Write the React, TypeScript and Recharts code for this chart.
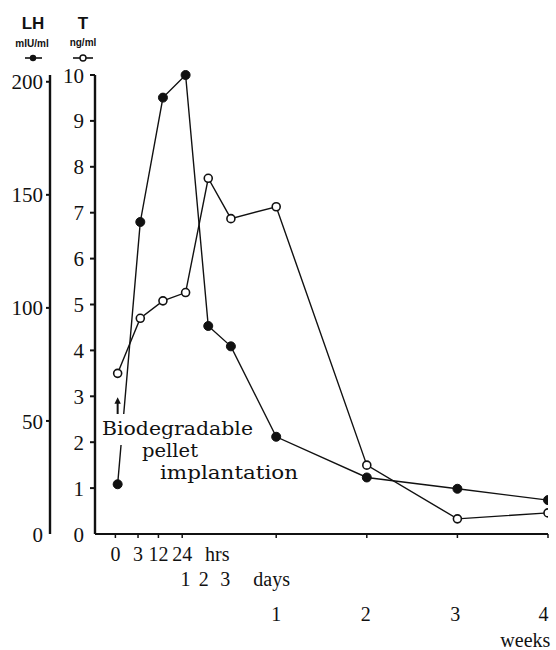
import React from 'react';
import { LineChart, Line, XAxis, YAxis, ReferenceLine } from 'recharts';

// Sampling times (labels) and their place on the broken time axis
const timeLabels = ['0 h', '3 h', '12 h', '24 h', '2 d', '3 d', '1 wk', '2 wk', '3 wk', '4 wk'];
const timePos = [0, 1, 2, 3, 4, 5, 7, 11, 15, 19];

// LH (mIU/ml) – filled circles
const lhValues = [22, 138, 193, 203, 92, 83, 43, 25, 20, 15];
// Testosterone T (ng/ml) – open circles
const tValues = [3.5, 4.7, 5.08, 5.26, 7.75, 6.87, 7.13, 1.5, 0.33, 0.46];

const lhTicks = [0, 50, 100, 150, 200];
const tTicks = [0, 1, 2, 3, 4, 5, 6, 7, 8, 9, 10];

// positions of the printed tick marks / labels along the broken time axis
const axisMarkPos = [-0.1, 0.9, 1.8, 2.85, 7, 11, 15, 19];
const hrsTickPos = [-0.1, 0.9, 1.8, 2.85, 4.4];
const hrsTickLabels = ['0', '3', '12', '24', 'hrs'];
const dayTickPos = [3, 3.8, 4.75, 6.8];
const dayTickLabels = ['1', '2', '3', 'days'];
const weekTickPos = [7, 10.95, 14.9, 18.8];
const weekTickLabels = ['1', '2', '3', '4'];
const weekWordPos = [18];
const weekWordLabels = ['weeks'];

const data = timePos.map((x, i) => ({ x, label: timeLabels[i], lh: lhValues[i], t: tValues[i] }));

const INK = '#111';
const SERIF = '"Liberation Serif", "Times New Roman", serif';
const ANN = '"DejaVu Serif", serif';
const SANS = '"Liberation Sans", Arial, sans-serif';
const X_DOMAIN: [number, number] = [-1, 19];

const makeYTick = (size: number, margin: number) => (p: any) => {
  const v = p.payload.value;
  return (
    <g>
      {v !== 0 && (
        <line x1={p.x + margin} x2={p.x + margin + size} y1={p.y} y2={p.y} stroke={INK} strokeWidth={2} />
      )}
      <text x={p.x} y={p.y} dy="0.36em" textAnchor="end" fontFamily={SERIF} fontSize={21} fill={INK}>
        {v}
      </text>
    </g>
  );
};

const makeXTick = (pos: number[], labels: string[]) => (p: any) => {
  const i = pos.indexOf(p.payload.value);
  return (
    <text x={p.x} y={p.y} dy="0.71em" textAnchor="middle" fontFamily={SERIF} fontSize={20} fill={INK}>
      {labels[i]}
    </text>
  );
};

const emptyTick = () => <g />;

const arrowShape = (p: any) => {
  const { x1, y1, x2, y2 } = p;
  const top = Math.min(y1, y2);
  const bot = Math.max(y1, y2);
  const x = x1;
  return (
    <g>
      <line x1={x} x2={x} y1={bot} y2={top + 4} stroke={INK} strokeWidth={2} />
      <path d={`M${x - 3.2},${top + 6.5} L${x},${top} L${x + 3.2},${top + 6.5} Z`} fill={INK} />
    </g>
  );
};

const labelAxisProps = {
  dataKey: 'x',
  type: 'number' as const,
  domain: X_DOMAIN,
  allowDataOverflow: true,
  interval: 0 as const,
  tickSize: 0,
  tickMargin: 0,
  axisLine: false,
  tickLine: false,
};

export default function App() {
  return (
    <div style={{ position: 'absolute', left: 0, top: 0, width: 556, height: 650, background: '#fff' }}>
      <LineChart
        width={556}
        height={650}
        data={data}
        margin={{ top: 75, right: 8, bottom: 3, left: 0 }}
      >
        <YAxis
          yAxisId="b_lh"
          orientation="left"
          type="number"
          domain={[0, 200]}
          ticks={lhTicks}
          interval={0}
          width={50}
          tickSize={4}
          tickMargin={3}
          tickLine={false}
          axisLine={{ stroke: INK, strokeWidth: 2.4 }}
          tick={makeYTick(4, 3)}
        />
        <YAxis
          yAxisId="a_t"
          orientation="left"
          type="number"
          domain={[0, 10]}
          ticks={tTicks}
          interval={0}
          width={45}
          tickSize={5}
          tickMargin={6}
          tickLine={false}
          axisLine={{ stroke: INK, strokeWidth: 2.4 }}
          tick={makeYTick(5, 6)}
        />
        <XAxis
          xAxisId="a_main"
          dataKey="x"
          type="number"
          domain={X_DOMAIN}
          allowDataOverflow
          ticks={axisMarkPos}
          interval={0}
          height={13}
          tickSize={4}
          tickLine={{ stroke: INK, strokeWidth: 1.5 }}
          axisLine={{ stroke: INK, strokeWidth: 2.2 }}
          tick={emptyTick}
        />
        <XAxis
          xAxisId="b_hrs"
          {...labelAxisProps}
          ticks={hrsTickPos}
          height={25}
          tick={makeXTick(hrsTickPos, hrsTickLabels)}
        />
        <XAxis
          xAxisId="c_days"
          {...labelAxisProps}
          ticks={dayTickPos}
          height={35}
          tick={makeXTick(dayTickPos, dayTickLabels)}
        />
        <XAxis
          xAxisId="d_weeks"
          {...labelAxisProps}
          ticks={weekTickPos}
          height={26}
          tick={makeXTick(weekTickPos, weekTickLabels)}
        />
        <XAxis
          xAxisId="e_weekword"
          {...labelAxisProps}
          ticks={weekWordPos}
          height={14}
          tick={makeXTick(weekWordPos, weekWordLabels)}
        />
        <Line
          xAxisId="a_main"
          yAxisId="b_lh"
          dataKey="lh"
          type="linear"
          stroke={INK}
          strokeWidth={1.4}
          dot={{ r: 4.5, fill: INK, stroke: INK, strokeWidth: 1 }}
          activeDot={false}
          isAnimationActive={false}
        />
        <Line
          xAxisId="a_main"
          yAxisId="a_t"
          dataKey="t"
          type="linear"
          stroke={INK}
          strokeWidth={1.4}
          dot={{ r: 4, fill: '#fff', stroke: INK, strokeWidth: 1.6 }}
          activeDot={false}
          isAnimationActive={false}
        />
        <ReferenceLine
          xAxisId="a_main"
          yAxisId="a_t"
          segment={[{ x: 0, y: 2.6 }, { x: 0, y: 2.98 }]}
          shape={arrowShape}
          ifOverflow="visible"
        />
      </LineChart>
      <svg
        width={556}
        height={650}
        style={{ position: 'absolute', left: 0, top: 0, pointerEvents: 'none' }}
      >
        <text x={33} y={29} textAnchor="middle" fontFamily={SANS} fontWeight="bold" fontSize={17} fill={INK}>LH</text>
        <text x={83} y={29} textAnchor="middle" fontFamily={SANS} fontWeight="bold" fontSize={17} fill={INK}>T</text>
        <text x={32} y={47} textAnchor="middle" fontFamily={SANS} fontWeight="bold" fontSize={10} fill={INK}>mIU/ml</text>
        <text x={83} y={46} textAnchor="middle" fontFamily={SANS} fontWeight="bold" fontSize={10} fill={INK}>ng/ml</text>
        <line x1={25} x2={42} y1={58} y2={58} stroke={INK} strokeWidth={1.6} />
        <circle cx={33} cy={58} r={3.2} fill={INK} />
        <line x1={73} x2={93} y1={58} y2={58} stroke={INK} strokeWidth={1.6} />
        <circle cx={83} cy={58} r={3} fill="#fff" stroke={INK} strokeWidth={1.4} />

        <rect x={100} y={414} width={156} height={31} fill="#fff" />
        <text x={102} y={435} fontFamily={ANN} fontSize={19} fill={INK} textLength={151} lengthAdjust="spacingAndGlyphs">Biodegradable</text>
        <text x={142} y={457} fontFamily={ANN} fontSize={19} fill={INK} textLength={56} lengthAdjust="spacingAndGlyphs">pellet</text>
        <text x={160} y={479} fontFamily={ANN} fontSize={19} fill={INK} textLength={138} lengthAdjust="spacingAndGlyphs">implantation</text>
      </svg>
    </div>
  );
}
